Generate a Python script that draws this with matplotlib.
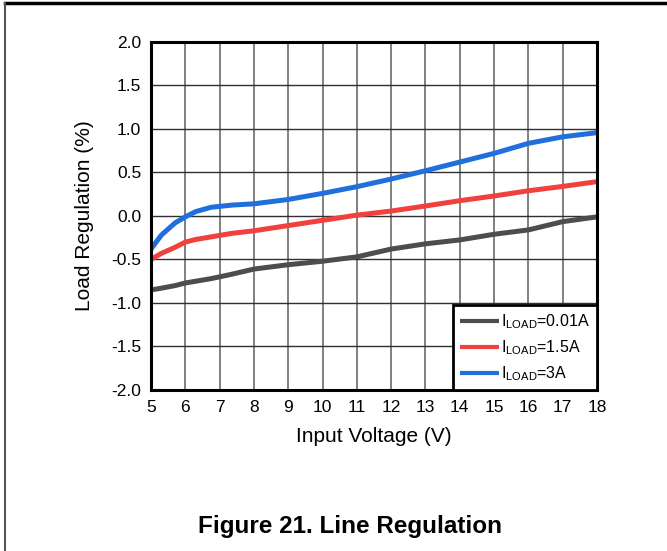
import matplotlib
matplotlib.use("Agg")
import matplotlib.pyplot as plt
from matplotlib.lines import Line2D

plt.rcParams["font.family"] = ["Liberation Sans", "DejaVu Sans"]
plt.rcParams["mathtext.fontset"] = "custom"
plt.rcParams["mathtext.rm"] = "Liberation Sans"

# values
vin = [5, 5.3, 5.7, 6, 6.3, 6.75, 7.35, 8, 9, 10, 11, 12, 13, 14, 15, 16, 17, 18]
reg_001 = [-0.85, -0.83, -0.80, -0.77, -0.75, -0.72, -0.67, -0.61, -0.56, -0.52,
           -0.47, -0.38, -0.32, -0.275, -0.21, -0.16, -0.065, -0.01]
reg_15 = [-0.50, -0.43, -0.36, -0.30, -0.27, -0.24, -0.20, -0.17, -0.11, -0.05,
          0.01, 0.057, 0.115, 0.176, 0.23, 0.29, 0.34, 0.395]
reg_3 = [-0.38, -0.22, -0.08, -0.01, 0.05, 0.10, 0.125, 0.14, 0.19, 0.26, 0.337,
         0.425, 0.52, 0.62, 0.72, 0.835, 0.91, 0.958]

labels = [r"I$_{\mathregular{LOAD}}$=0.01A",
          r"I$_{\mathregular{LOAD}}$=1.5A",
          r"I$_{\mathregular{LOAD}}$=3A"]
colors = ["#4d4d4d", "#f0413f", "#1f6fdc"]

x_ticks = list(range(5, 19))
y_ticks = [-2.0, -1.5, -1.0, -0.5, 0.0, 0.5, 1.0, 1.5, 2.0]

fig = plt.figure(figsize=(6.67, 5.51), dpi=100)
ax = fig.add_axes([0.2264, 0.2922, 0.6687, 0.6316])

for y, lab, c in zip([reg_001, reg_15, reg_3], labels, colors):
    ax.plot(vin, y, color=c, linewidth=3.6, label=lab, solid_capstyle="butt",
            solid_joinstyle="round")

ax.set_xlim(5, 18)
ax.set_ylim(-2, 2)
ax.set_xticks(x_ticks)
ax.set_yticks(y_ticks)
ax.set_yticklabels([f"{v:.1f}" for v in y_ticks])
ax.tick_params(length=0, labelsize=12.5, pad=7)
ax.xaxis.grid(True, color="#808080", linewidth=1.4)
ax.yaxis.grid(True, color="#303030", linewidth=1.0)
ax.set_axisbelow(True)
for s in ax.spines.values():
    s.set_linewidth(2.2)

ax.set_xlabel("Input Voltage (V)", fontsize=15, labelpad=9)
ax.set_ylabel("Load Regulation (%)", fontsize=15, labelpad=12.5)

leg = ax.legend(loc="lower right", borderaxespad=0, fontsize=11.5,
                handlelength=2.4, handletextpad=0.15, labelspacing=0.45,
                borderpad=0.45, fancybox=False, framealpha=1)
leg.get_frame().set_edgecolor("black")
leg.get_frame().set_linewidth(2)
for h in leg.get_lines():
    h.set_linewidth(3)

fig.text(0.525, 0.045, "Figure 21. Line Regulation", fontsize=17.5,
         fontweight="bold", ha="center", va="center")

# page frame lines
fig.add_artist(Line2D([0.007, 1.0], [0.995, 0.995], color="black", linewidth=2.5,
                      transform=fig.transFigure))
fig.add_artist(Line2D([0.008, 0.008], [0.0, 0.995], color="#555555", linewidth=1.5,
                      transform=fig.transFigure))

fig.savefig("out.png", dpi=100)
